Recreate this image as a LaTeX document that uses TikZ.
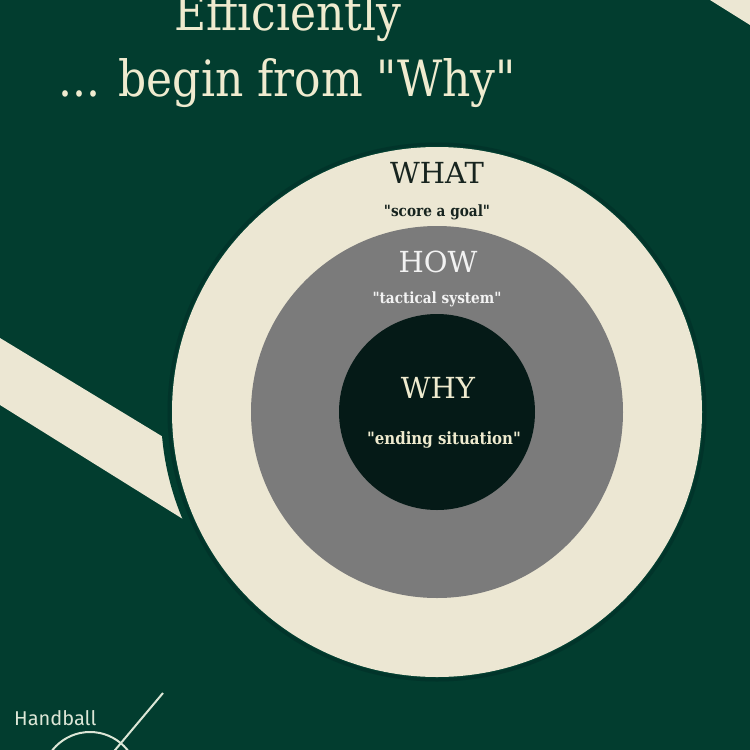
\documentclass[tikz,border=0pt]{standalone}
\usepackage{fontspec}
\setmainfont{DejaVu Serif}[FakeStretch=0.88, Ligatures=TeXOff]
\newfontfamily\headfont{DejaVu Serif}[Ligatures=TeXOff]
\newfontfamily\logofont{Fira Sans}
\definecolor{bggreen}{HTML}{023D2F}
\definecolor{ringgreen}{HTML}{01342A}
\definecolor{cream}{HTML}{ECE7D3}
\definecolor{titlecream}{HTML}{EFEBCF}
\definecolor{midgray}{HTML}{7B7B7B}
\definecolor{inkdark}{HTML}{051A17}
\definecolor{whatink}{HTML}{17241F}
\definecolor{howink}{HTML}{F2F2F2}
\definecolor{logoink}{HTML}{DCE6D6}
\tikzset{
  title/.style={text=titlecream, inner sep=0pt, anchor=base, font=\fontsize{50}{50}\selectfont},
  head/.style={inner sep=0pt, anchor=base, font=\headfont\fontsize{29}{29}\selectfont},
  sub/.style={inner sep=0pt, anchor=base, font=\fontsize{15.5}{15.5}\selectfont\bfseries},
  logoline/.style={draw=logoink, line width=2pt}
}
\begin{document}
\begin{tikzpicture}[x=1pt,y=-1pt]
\useasboundingbox (0,0) rectangle (750,750);
\clip (0,0) rectangle (750,750);
\fill[bggreen] (0,0) rectangle (750,750);
% stripes
\fill[cream] (0,338) -- (300,520) -- (300,592) -- (0,405) -- cycle;
\fill[cream] (710,0) -- (750,25) -- (750,0) -- cycle;
% circles
\coordinate (c) at (437,412);
\fill[bggreen] (c) circle[radius=276];
\draw[ringgreen, line width=3pt] (c) circle[radius=268];
\fill[cream] (c) circle[radius=265];
\fill[midgray] (c) circle[radius=186];
\fill[inkdark] (c) circle[radius=98];
% titles
\node[title] (t1) at (288,30) {Efficiently};
\node[title] (t2) at (287,96) {... begin from "Why"};
% circle texts
\node[head, text=whatink] (what) at (437,183) {WHAT};
\node[sub, text=whatink] (whatsub) at (437,216) {"score a goal"};
\node[head, text=howink] (how) at (438,272) {HOW};
\node[sub, text=howink] (howsub) at (437,303) {"tactical system"};
\node[head, text=titlecream] (why) at (438,398) {WHY};
\node[sub, text=titlecream, font=\fontsize{17}{17}\selectfont\bfseries] (whysub) at (444,444) {"ending situation"};
% logo
\node[inner sep=0pt, anchor=base west, text=logoink, font=\logofont\fontsize{20}{20}\selectfont] (logo) at (14,725) {Handball};
\coordinate (la) at (163,693);
\coordinate (lb) at (105,762);
\draw[logoline] (la) -- (lb);
\draw[logoline] (90,780) circle[radius=48];
\end{tikzpicture}
\end{document}
